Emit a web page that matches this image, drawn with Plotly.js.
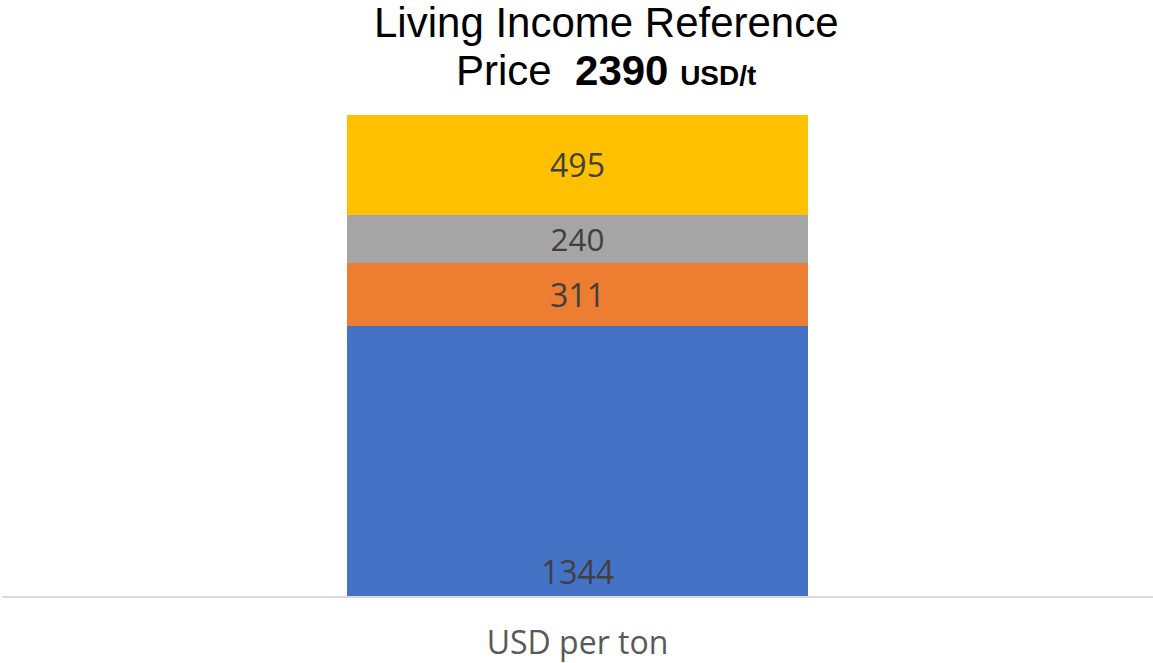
<!DOCTYPE html>
<html>
<head>
<meta charset="utf-8">
<script src="https://cdn.plot.ly/plotly-3.0.1.min.js"></script>
<style>html,body{margin:0;padding:0;background:#fff}#chart{width:1153px;height:663px}</style>
</head>
<body>
<div id="chart"></div>
<script>
const categories = ["USD per ton"];
const seriesNames = ["Base", "Part 2", "Part 3", "Part 4"];
const seriesValues = [[1344], [311], [240], [495]];
const seriesColors = ["#4472C4", "#ED7D31", "#A5A5A5", "#FFC000"];
const totalPrice = 2390;
const titleLine1 = "Living Income Reference";
const titleLine2 = "Price";
const priceUnit = "USD/t";

const traces = seriesValues.map((vals, i) => ({
  type: "bar",
  x: categories,
  y: vals,
  name: seriesNames[i],
  marker: {color: seriesColors[i], line: {width: 0}},
  width: 0.4,
  text: vals.map(String),
  textposition: "inside",
  insidetextanchor: i === 0 ? "start" : "middle",
  textfont: {family: "Open Sans", size: 32, color: "#404040"},
  hoverinfo: "none"
}));

const H = 663, plotTop = 115, plotBottom = 596;
const py = p => (plotBottom - p) / (plotBottom - plotTop);

const layout = {
  width: 1153, height: H,
  margin: {l: 2, r: 0, t: plotTop, b: H - plotBottom},
  barmode: "stack",
  showlegend: false,
  paper_bgcolor: "#fff", plot_bgcolor: "#fff",
  annotations: [
    {text: titleLine1, xref: "paper", yref: "paper", x: 0.525, y: py(22), xanchor: "center", yanchor: "middle",
     showarrow: false, font: {family: "Liberation Sans", size: 42, color: "#000"}},
    {text: titleLine2 + "&nbsp;&nbsp;<b>" + totalPrice + "</b> <b><span style='font-size:28px'>" + priceUnit + "</span></b>",
     xref: "paper", yref: "paper", x: 0.525, y: py(70), xanchor: "center", yanchor: "middle",
     showarrow: false, font: {family: "Liberation Sans", size: 42, color: "#000"}}
  ],
  xaxis: {
    showline: true, linecolor: "#D9D9D9", linewidth: 1.5,
    ticks: "", tickfont: {family: "Open Sans", size: 32, color: "#595959"},
    ticklabelstandoff: 18,
    showgrid: false, zeroline: false, fixedrange: true
  },
  yaxis: {
    range: [0, totalPrice], visible: false, showgrid: false, zeroline: false, fixedrange: true
  }
};

Plotly.newPlot("chart", traces, layout, {staticPlot: true, displayModeBar: false});
</script>
</body>
</html>
